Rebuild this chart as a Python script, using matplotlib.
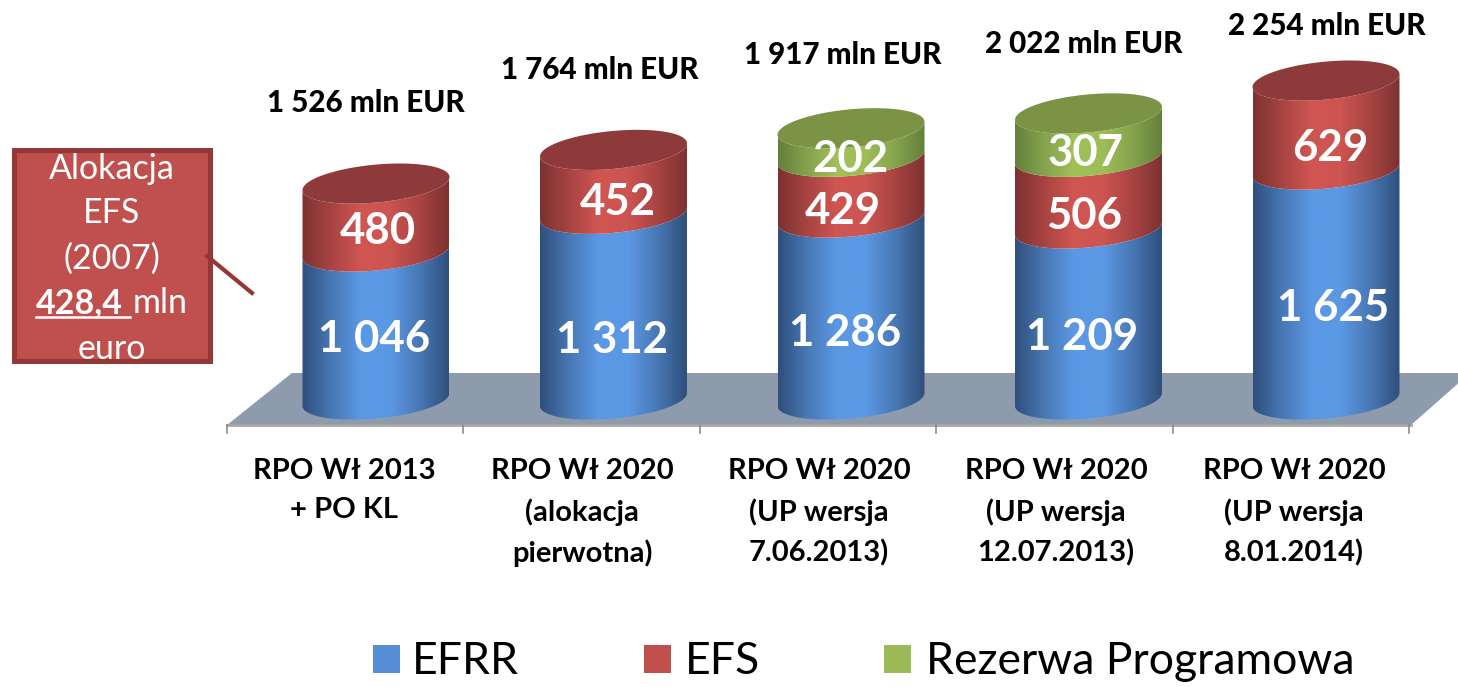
import numpy as np
import matplotlib
matplotlib.use('Agg')
import matplotlib.pyplot as plt
from matplotlib.colors import LinearSegmentedColormap
from matplotlib.patches import PathPatch, Polygon, Rectangle
from matplotlib.path import Path
from matplotlib.transforms import Affine2D

# data
categories = ['RPO Wł 2013\n+ PO KL', 'RPO Wł 2020\n(alokacja\npierwotna)', 'RPO Wł 2020\n(UP wersja\n7.06.2013)',
              'RPO Wł 2020\n(UP wersja\n12.07.2013)', 'RPO Wł 2020\n(UP wersja\n8.01.2014)']
efrr = [1046, 1312, 1286, 1209, 1625]
efs = [480, 452, 429, 506, 629]
rezerwa = [0, 0, 202, 307, 0]
totals = [1526, 1764, 1917, 2022, 2254]
series_names = ['EFRR', 'EFS', 'Rezerwa Programowa']

# label positions in pixels
total_pos = [(366, 103), (600, 70), (843, 55), (1084, 44), (1327, 26)]
efrr_pos = [(374, 339), (612, 340), (845, 333), (1082, 337), (1333, 308)]
efs_pos = [(378, 231), (618, 202), (843, 211), (1084, 216), (1330, 148)]
rez_pos = [None, None, (850, 159), (1086, 153), None]
cat_x = [344, 582, 819, 1056, 1294]

plt.rcParams['font.family'] = ['Lato', 'DejaVu Sans']
W, H = 1458, 687
fig = plt.figure(figsize=(W / 100, H / 100), dpi=100)
ax = fig.add_axes([0, 0, 1, 1])
ax.axis('off')

# scales: category 0 sits at x=376 px, value 0 at y=399.5 px
x0, dx, y0, sy = 376, 237.5, 399.5, 0.1415
xlim = ((0 - x0) / dx, (W - x0) / dx)
ylim = ((y0 - H) / sy, y0 / sy)
px = Affine2D().scale(1, -1).translate(0, H)

half_w = 73.5 / dx
half_h = 19 / sy
tilt = 6.5 / sy

blue = LinearSegmentedColormap.from_list('b', ['#2F4F7C', '#4878B4', '#5B98E4', '#5B98E4', '#4878B4', '#2F4F7C'])
red = LinearSegmentedColormap.from_list('r', ['#7C3230', '#A84442', '#D05652', '#CC5451', '#A84442', '#7C3230'])
green = LinearSegmentedColormap.from_list('g', ['#64803A', '#86A34E', '#A0C058', '#9DBD56', '#86A34E', '#64803A'])
cap_blue, cap_red, cap_green = '#3F6CA3', '#8E3A3A', '#7A9345'
grad = np.linspace(0, 1, 256).reshape(1, -1)


def rim(i, v, t):
    return i + half_w * np.cos(t), v + half_h * np.sin(t) + tilt * np.cos(t)


def segment(i, bottom, top, cmap):
    t = np.linspace(np.pi, 2 * np.pi, 60)
    xa, ya = rim(i, bottom, t)
    xb, yb = rim(i, top, t[::-1])
    pts = np.column_stack([np.r_[xa, xb], np.r_[ya, yb]])
    patch = PathPatch(Path(np.vstack([pts, pts[0]]), closed=True), fc='none', ec='none', transform=ax.transData)
    ax.add_patch(patch)
    im = ax.imshow(grad, cmap=cmap, aspect='auto', zorder=3,
                   extent=(i - half_w, i + half_w, bottom - half_h - tilt, top + half_h + tilt))
    im.set_clip_path(patch)


def cap(i, v, color):
    t = np.linspace(0, 2 * np.pi, 120)
    xa, ya = rim(i, v, t)
    ax.add_patch(Polygon(np.column_stack([xa, ya]), closed=True, fc=color, ec='none', zorder=4))


# floor
ax.add_patch(Polygon([(227, 425), (292, 373), (1470, 373), (1411, 425)], closed=True, fc='#8E9BAD', ec='none',
                     transform=px, zorder=1))
ax.plot([227, 1411], [425, 425], color='#A6A6A6', lw=2, transform=px, zorder=2)
for k in range(6):
    tx = 227 + k * 236.4
    ax.plot([tx, tx], [425, 433], color='#8C8C8C', lw=1.2, transform=px, zorder=2)

# cylinders
for i in range(len(categories)):
    segment(i, 0, efrr[i], blue)
    segment(i, efrr[i], efrr[i] + efs[i], red)
    top = efrr[i] + efs[i]
    color = cap_red
    if rezerwa[i] > 0:
        segment(i, top, top + rezerwa[i], green)
        top = top + rezerwa[i]
        color = cap_green
    cap(i, top, color)

ax.set_xlim(xlim)
ax.set_ylim(ylim)


def fmt(v):
    return f'{v:,}'.replace(',', ' ')


def txt(x, y, s, size, color='black', weight='normal', ha='center', z=6):
    ax.text(x, y, s, fontsize=size, color=color, fontweight=weight, ha=ha, va='center', transform=px, zorder=z)


for i in range(len(categories)):
    txt(total_pos[i][0], total_pos[i][1], fmt(totals[i]) + ' mln EUR', 21.3, weight='black')
    txt(efrr_pos[i][0], efrr_pos[i][1], fmt(efrr[i]), 31.5, 'white', 'bold')
    txt(efs_pos[i][0], efs_pos[i][1], fmt(efs[i]), 31.5, 'white', 'bold')
    if rez_pos[i]:
        txt(rez_pos[i][0], rez_pos[i][1], fmt(rezerwa[i]), 31.5, 'white', 'bold')
    ax.text(cat_x[i], 458, categories[i], fontsize=21, fontweight='bold', ha='center', va='top',
            linespacing=1.62, transform=px)

# callout
ax.add_patch(Rectangle((14, 150), 196, 211, fc='#C0504D', ec='#953735', lw=3.6, transform=px, zorder=5))
ax.plot([207, 252], [256, 293], color='#953735', lw=3, transform=px, zorder=5.5)
txt(112, 169, 'Alokacja', 24.5, 'white')
txt(112, 213, 'EFS', 24.5, 'white')
txt(112, 259, '(2007)', 24.5, 'white')
txt(36, 303, '428,4', 24.5, 'white', 'bold', ha='left')
txt(133, 303, 'mln', 24.5, 'white', ha='left')
ax.plot([36, 130], [317, 317], color='white', lw=1.8, transform=px, zorder=6)
txt(112, 349, 'euro', 24.5, 'white')

# legend
leg_x = [373, 644, 884]
leg_text_x = [412, 685, 926]
leg_colors = ['#558ED5', '#C0504D', '#9BBB59']
for k in range(3):
    ax.add_patch(Rectangle((leg_x[k], 645), 27, 28, fc=leg_colors[k], ec='none', transform=px))
    txt(leg_text_x[k], 662, series_names[k], 32, ha='left')

fig.savefig('out.png', dpi=100)
